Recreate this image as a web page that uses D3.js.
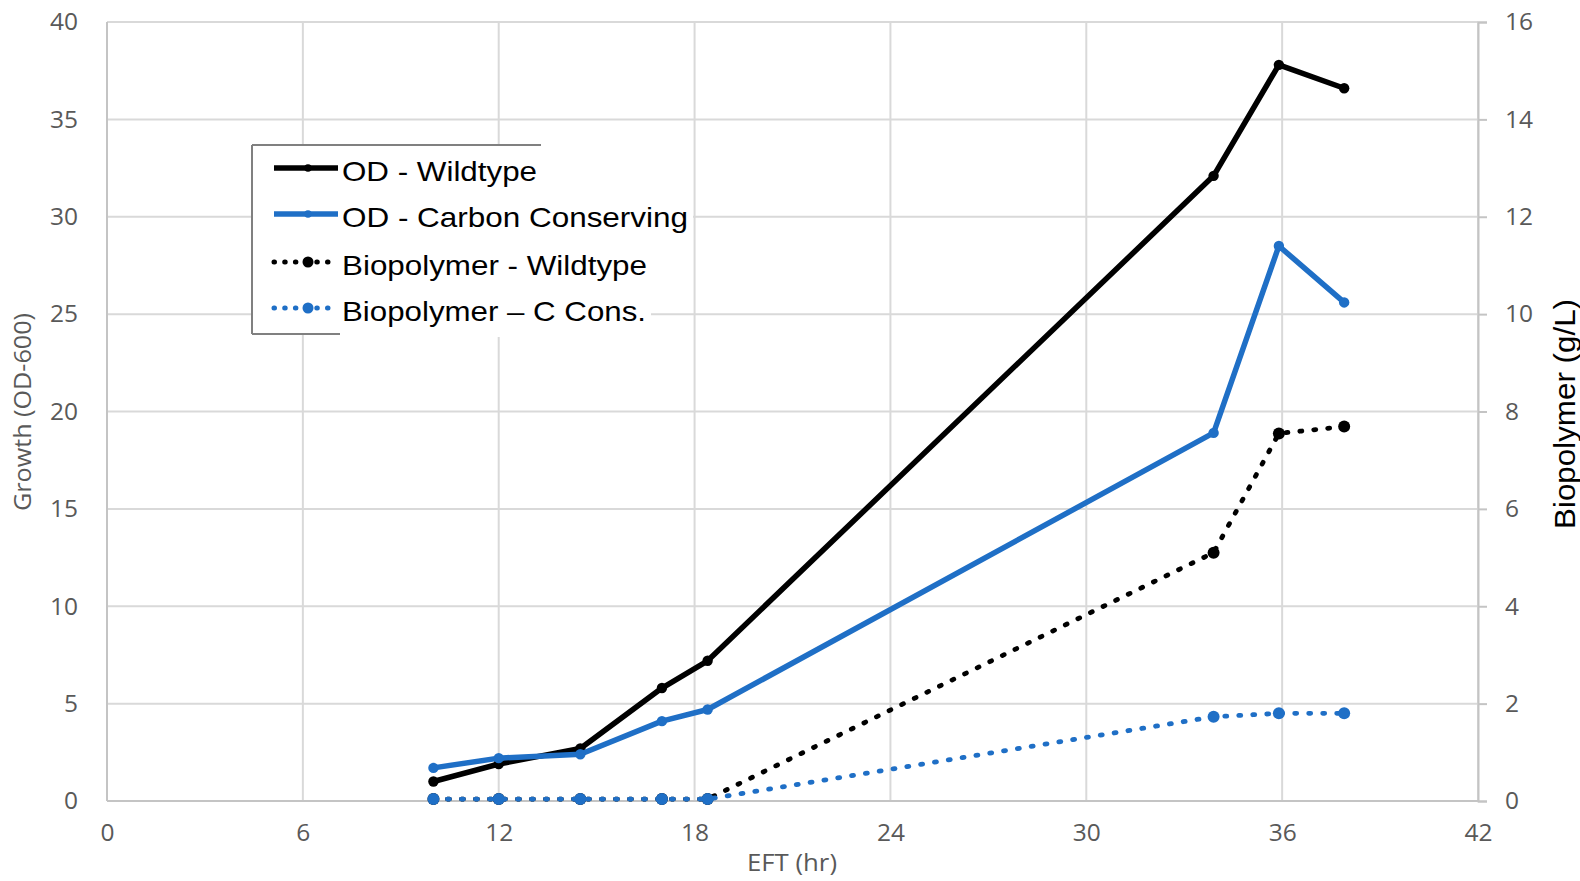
<!DOCTYPE html>
<html>
<head>
<meta charset="utf-8">
<script src="https://cdn.jsdelivr.net/npm/d3@7"></script>
<style>
  html, body { margin: 0; padding: 0; background: #fff; }
  svg { display: block; }
</style>
</head>
<body>
<svg id="chart" width="1580" height="881"></svg>
<script>
// Sampling times (EFT, hours)
const hours = [10, 12, 14.5, 17, 18.4, 33.9, 35.9, 37.9];

// Growth, OD-600 (left axis)
const odWildtype = [1.0, 1.9, 2.7, 5.8, 7.2, 32.1, 37.8, 36.6];
const odCarbonConserving = [1.7, 2.2, 2.4, 4.1, 4.7, 18.9, 28.5, 25.6];

// Biopolymer titre, g/L (right axis)
const bioWildtype = [0.04, 0.04, 0.04, 0.04, 0.04, 5.1, 7.55, 7.69];
const bioCCons = [0.04, 0.04, 0.04, 0.04, 0.04, 1.73, 1.8, 1.8];

// Tick values
const xTicks = [0, 6, 12, 18, 24, 30, 36, 42];
const leftTicks = [0, 5, 10, 15, 20, 25, 30, 35, 40];
const rightTicks = [0, 2, 4, 6, 8, 10, 12, 14, 16];

// Legend labels
const legendLabels = ["OD - Wildtype", "OD - Carbon Conserving", "Biopolymer - Wildtype", "Biopolymer \u2013 C Cons."];

const svg = d3.select("#chart");
const plotLeft = 107, plotRight = 1478, plotTop = 22, plotBottom = 801;

const x = d3.scaleLinear().domain([0, 42]).range([plotLeft, plotRight]);
const yL = d3.scaleLinear().domain([0, 40]).range([plotBottom, plotTop]);
const yR = d3.scaleLinear().domain([0, 16]).range([plotBottom, plotTop]);

const tickFont = "'Open Sans', sans-serif";
const tickColor = "#595959";
const gridColor = "#d9d9d9";
const black = "#000000";
const blue = "#1f6fc6";

// Horizontal gridlines
svg.append("g").selectAll("line").data(leftTicks).join("line")
  .attr("x1", plotLeft).attr("x2", plotRight)
  .attr("y1", d => yL(d)).attr("y2", d => yL(d))
  .attr("stroke", gridColor).attr("stroke-width", 2);

// Vertical gridlines
svg.append("g").selectAll("line").data(xTicks).join("line")
  .attr("x1", d => x(d)).attr("x2", d => x(d))
  .attr("y1", plotTop).attr("y2", plotBottom)
  .attr("stroke", gridColor).attr("stroke-width", 2);

// Axis lines
svg.append("line").attr("x1", plotLeft).attr("x2", plotLeft).attr("y1", plotTop).attr("y2", plotBottom)
  .attr("stroke", "#c4c4c4").attr("stroke-width", 2);
svg.append("line").attr("x1", plotLeft).attr("x2", plotRight).attr("y1", plotBottom).attr("y2", plotBottom)
  .attr("stroke", "#c4c4c4").attr("stroke-width", 2);

// Right axis with outward ticks
const rightAxis = d3.axisRight(yR).tickValues(rightTicks).tickSize(9).tickPadding(18).tickFormat(d3.format("d"));
const ra = svg.append("g").attr("transform", `translate(${plotRight},0)`).call(rightAxis);
ra.select(".domain").attr("stroke", "#c4c4c4").attr("stroke-width", 2);
ra.selectAll(".tick line").attr("stroke", "#c4c4c4").attr("stroke-width", 2);
ra.selectAll(".tick text").attr("fill", tickColor).attr("font-family", tickFont).attr("font-size", 24.5);

// Left axis labels
const leftAxis = d3.axisLeft(yL).tickValues(leftTicks).tickSize(0).tickPadding(29).tickFormat(d3.format("d"));
const la = svg.append("g").attr("transform", `translate(${plotLeft},0)`).call(leftAxis);
la.select(".domain").remove();
la.selectAll(".tick text").attr("fill", tickColor).attr("font-family", tickFont).attr("font-size", 24.5);

// Bottom axis labels
const bottomAxis = d3.axisBottom(x).tickValues(xTicks).tickSize(0).tickPadding(23).tickFormat(d3.format("d"));
const ba = svg.append("g").attr("transform", `translate(0,${plotBottom})`).call(bottomAxis);
ba.select(".domain").remove();
ba.selectAll(".tick text").attr("fill", tickColor).attr("font-family", tickFont).attr("font-size", 24.5);

// Axis titles
svg.append("text").attr("x", 792).attr("y", 871).attr("text-anchor", "middle")
  .attr("font-family", tickFont).attr("font-size", 23.5).attr("fill", tickColor)
  .attr("textLength", 90).attr("lengthAdjust", "spacingAndGlyphs")
  .text("EFT (hr)");
svg.append("text").attr("transform", "translate(31,412) rotate(-90)").attr("text-anchor", "middle")
  .attr("font-family", tickFont).attr("font-size", 23.5).attr("fill", tickColor)
  .attr("textLength", 198).attr("lengthAdjust", "spacingAndGlyphs")
  .text("Growth (OD-600)");
svg.append("text").attr("transform", "translate(1575,414) rotate(-90)").attr("text-anchor", "middle")
  .attr("font-family", "'Liberation Sans', Arial, sans-serif").attr("font-size", 29).attr("fill", "#000")
  .attr("textLength", 230).attr("lengthAdjust", "spacingAndGlyphs")
  .text("Biopolymer (g/L)");

// Series definitions
const series = [
  { name: legendLabels[0], values: odWildtype, scale: yL, color: black, dotted: false },
  { name: legendLabels[1], values: odCarbonConserving, scale: yL, color: blue, dotted: false },
  { name: legendLabels[2], values: bioWildtype, scale: yR, color: black, dotted: true },
  { name: legendLabels[3], values: bioCCons, scale: yR, color: blue, dotted: true }
];

// Legend
const legendTextWidths = [195, 346, 305, 304];
const legendRowY = [168, 214, 262, 308];
const lg = svg.append("g");
lg.append("rect").attr("x", 252).attr("y", 145).attr("width", 289).attr("height", 189).attr("fill", "#fff");
legendRowY.forEach((ry, i) => {
  lg.append("rect").attr("x", 340).attr("y", ry - 23).attr("width", legendTextWidths[i] + 7).attr("height", i === 3 ? 52 : 46)
    .attr("fill", "#fff");
});
lg.append("line").attr("x1", 252).attr("x2", 541).attr("y1", 145).attr("y2", 145).attr("stroke", "#808080").attr("stroke-width", 2);
lg.append("line").attr("x1", 252).attr("x2", 252).attr("y1", 145).attr("y2", 334).attr("stroke", "#808080").attr("stroke-width", 2);
lg.append("line").attr("x1", 252).attr("x2", 340).attr("y1", 334).attr("y2", 334).attr("stroke", "#808080").attr("stroke-width", 2);

series.forEach((s, i) => {
  const ry = legendRowY[i];
  const l = lg.append("line").attr("x1", 274).attr("x2", 338).attr("y1", ry).attr("y2", ry)
    .attr("stroke", s.color).attr("fill", "none");
  if (s.dotted) {
    l.attr("stroke-width", 5).attr("stroke-linecap", "round").attr("stroke-dasharray", "0.5 10.2");
  } else {
    l.attr("stroke-width", 5.5);
  }
  lg.append("circle").attr("cx", 308).attr("cy", ry).attr("r", s.dotted ? 5.5 : 3.8).attr("fill", s.color);
  lg.append("text").attr("x", 342).attr("y", ry + 13)
    .attr("font-family", "'Liberation Sans', Arial, sans-serif").attr("font-size", 27.5).attr("fill", "#000")
    .attr("textLength", legendTextWidths[i]).attr("lengthAdjust", "spacingAndGlyphs")
    .text(s.name);
});

// Lines and markers
series.forEach(s => {
  const pts = hours.map((h, i) => [h, s.values[i]]);
  const line = d3.line().x(d => x(d[0])).y(d => s.scale(d[1]));
  const p = svg.append("path").datum(pts).attr("d", line)
    .attr("fill", "none").attr("stroke", s.color).attr("stroke-linejoin", "round");
  if (s.dotted) {
    p.attr("stroke-width", 4.8).attr("stroke-linecap", "round").attr("stroke-dasharray", "2 12");
  } else {
    p.attr("stroke-width", 5.5);
  }
  svg.append("g").selectAll("circle").data(pts).join("circle")
    .attr("cx", d => x(d[0])).attr("cy", d => s.scale(d[1]))
    .attr("r", s.dotted ? 6 : 5.2).attr("fill", s.color);
});
</script>
</body>
</html>
